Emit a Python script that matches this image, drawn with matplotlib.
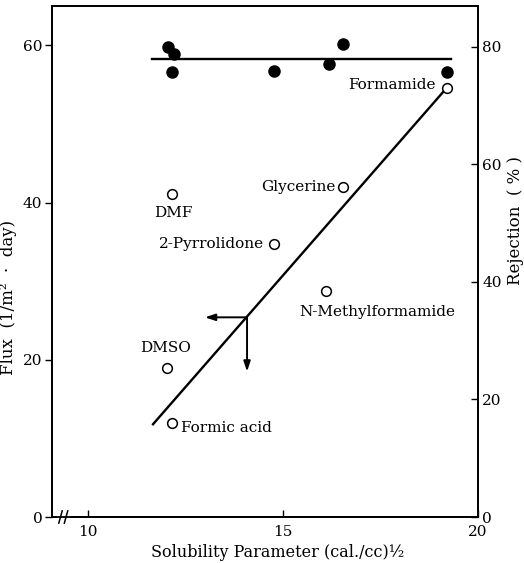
import numpy as np
import matplotlib
matplotlib.use("Agg")
from matplotlib import pyplot as plt

plt.rcParams['font.family'] = ['DejaVu Serif']
plt.rcParams['font.size'] = 11

# flux (open circles), left axis
solvents = ["Formamide", "Glycerine", "DMF", "2-Pyrrolidone",
            "N-Methylformamide", "DMSO", "Formic acid"]
sp_flux = [19.2, 16.55, 12.15, 14.77, 16.1, 12.03, 12.15]
flux = [54.6, 42.0, 41.1, 34.7, 28.7, 18.9, 11.9]

# rejection (filled circles), right axis
sp_rej = [12.05, 12.2, 12.15, 14.77, 16.18, 16.54, 19.2]
rejection = [80.0, 78.8, 75.8, 75.9, 77.1, 80.5, 75.7]

# drawn lines
flux_line_x = [11.67, 19.2]
flux_line_y = [11.8, 54.6]
rej_line_x = [11.64, 19.3]
rej_line_y = [78.0, 78.0]

# read-off arrows
arrow_x, arrow_y = 14.08, 25.4
arrow_left_to = 13.0
arrow_down_to = 18.5

# text offsets (points) and alignment for each label
label_pos = {
    "Formamide": (-8, 2, "right", "center"),
    "Glycerine": (-6, 0, "right", "center"),
    "DMF": (1, -14, "center", "center"),
    "2-Pyrrolidone": (-7, 0, "right", "center"),
    "N-Methylformamide": (-19, -15, "left", "center"),
    "DMSO": (-1, 15, "center", "center"),
    "Formic acid": (7, -3, "left", "center"),
}

fig = plt.figure(figsize=(5.24, 5.63), dpi=100)
ax = fig.add_axes([0.0992, 0.0817, 0.8130, 0.9076])
ax2 = ax.twinx()

ax.set_xlim(9.08, 20)
ax.set_ylim(0, 65)
ax2.set_ylim(0, 65 * 80 / 59.8)

ax.plot(flux_line_x, flux_line_y, color='black', lw=1.7)
ax.plot(sp_flux, flux, 'o', mfc='white', mec='black', mew=1.1, ms=7, zorder=5)

ax2.plot(rej_line_x, rej_line_y, color='black', lw=1.7)
ax2.plot(sp_rej, rejection, 'o', color='black', ms=8, zorder=5)

for name, xv, yv in zip(solvents, sp_flux, flux):
    dx, dy, ha, va = label_pos[name]
    ax.annotate(name, (xv, yv), xytext=(dx, dy), textcoords='offset points',
                ha=ha, va=va)

arrow_kw = dict(arrowstyle='-|>,head_length=0.6,head_width=0.2', color='black',
                lw=1.4, mutation_scale=10, shrinkA=0, shrinkB=0)
ax.annotate('', xy=(arrow_left_to, arrow_y), xytext=(arrow_x, arrow_y),
            arrowprops=arrow_kw)
ax.annotate('', xy=(arrow_x, arrow_down_to), xytext=(arrow_x, arrow_y),
            arrowprops=arrow_kw)

ax.set_xticks([10, 15, 20])
ax.set_yticks([0, 20, 40, 60])
ax2.set_yticks([0, 20, 40, 60, 80])
ax.tick_params(axis='x', direction='in', length=5, width=1, pad=6)
ax.tick_params(axis='y', direction='out', length=5, width=1, pad=2)
ax2.yaxis.set_tick_params(which='both', direction='in', length=5, width=1,
                          pad=3)

for a in (ax, ax2):
    for s in a.spines.values():
        s.set_linewidth(1.3)

ax.set_xlabel("Solubility Parameter (cal./cc)½", fontsize=11.5)
ax.xaxis.set_label_coords(0.53, -0.052)
ax.set_ylabel("Flux  (1/m²  ·  day)", fontsize=12)
ax.yaxis.set_label_coords(-0.082, 0.43)
ax2.set_ylabel("Rejection  ( % )", fontsize=12)
ax2.yaxis.set_label_coords(1.068, 0.58)

# axis break on the x-axis
tr = ax.transAxes
ax.plot([0.016, 0.038], [0, 0], color='white', lw=3, transform=tr,
        clip_on=False, zorder=10)
for bx in (0.02, 0.033):
    ax.plot([bx - 0.004, bx + 0.004], [-0.012, 0.012], color='black', lw=1.1,
            transform=tr, clip_on=False, zorder=11)

fig.savefig("out.png", dpi=100)
